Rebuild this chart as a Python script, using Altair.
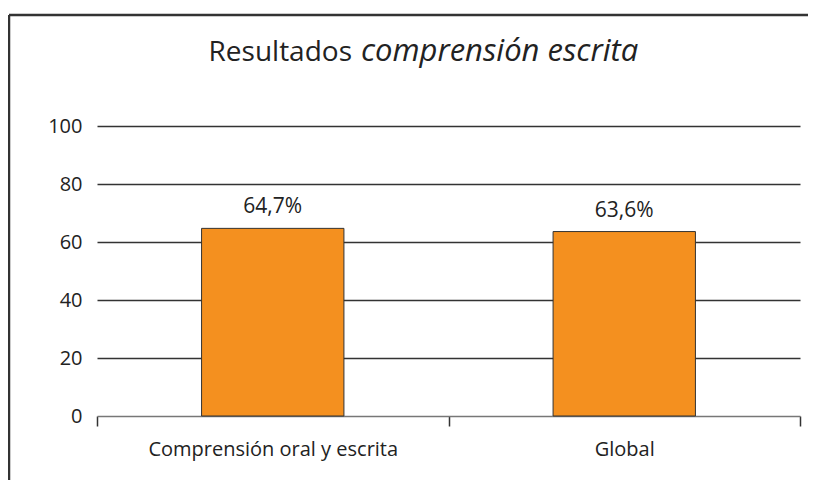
import altair as alt
import pandas as pd

categories = ["Comprensión oral y escrita", "Global"]
values = [64.7, 63.6]
value_labels = ["64,7%", "63,6%"]
y_ticks = [0, 20, 40, 60, 80, 100]

FONT = "Open Sans"
ORANGE = "#F4901F"

df = pd.DataFrame({"cat": categories, "val": values, "lab": value_labels})

W, H = 703, 290

x_enc = alt.X("cat:N", sort=categories, title=None,
              scale=alt.Scale(paddingInner=0, paddingOuter=0),
              axis=alt.Axis(labelAngle=0, labelFontSize=20, labelFont=FONT,
                            labelColor="#222", labelPadding=13, labelLimit=0,
                            domainColor="#777", domainWidth=1.5,
                            tickColor="#333", tickWidth=1.5, tickSize=10,
                            tickBand="extent"))
y_enc = alt.Y("val:Q", title=None,
              scale=alt.Scale(domain=[0, 100], nice=False),
              axis=alt.Axis(values=y_ticks, domain=False, ticks=False,
                            labelFontSize=20, labelFont=FONT, labelColor="#222",
                            labelPadding=15,
                            grid=True,
                            gridColor=alt.condition("datum.value == 0",
                                                    alt.value("transparent"),
                                                    alt.value("#333")),
                            gridWidth=1.5))

base = alt.Chart(df)

bars = base.mark_bar(color=ORANGE, stroke="#333", strokeWidth=1,
                     width=alt.RelativeBandSize(0.405)).encode(x=x_enc, y=y_enc)

labels = base.mark_text(fontSize=21, font=FONT, color="#222", dy=-15,
                        baseline="alphabetic").encode(
    x=alt.X("cat:N", sort=categories), y="val:Q", text="lab:N")

title_a = alt.Chart(pd.DataFrame({"t": ["Resultados"]})).mark_text(
    fontSize=28, font=FONT, color="#222", align="right", baseline="alphabetic"
).encode(x=alt.value(255), y=alt.value(-65), text="t:N")

title_b = alt.Chart(pd.DataFrame({"t": ["comprensión escrita"]})).mark_text(
    fontSize=31, font=FONT, color="#222", align="left", baseline="alphabetic",
    fontStyle="italic"
).encode(x=alt.value(264), y=alt.value(-65), text="t:N")

frame_left = alt.Chart(pd.DataFrame({"a": [0]})).mark_rule(
    color="#333", strokeWidth=2.5
).encode(x=alt.value(-88), y=alt.value(-111), y2=alt.value(420))

frame_top = alt.Chart(pd.DataFrame({"a": [0]})).mark_rule(
    color="#333", strokeWidth=2.5
).encode(x=alt.value(-88), x2=alt.value(720), y=alt.value(-111))

chart = alt.layer(bars, labels, title_a, title_b, frame_left, frame_top).properties(
    width=W, height=H,
    autosize=alt.AutoSizeParams(type="none"),
    padding={"left": 89, "top": 118, "right": 8, "bottom": 64},
).configure(background="white").configure_view(stroke=None)

chart.save("out.html", embed_options={"renderer": "svg", "actions": False})
